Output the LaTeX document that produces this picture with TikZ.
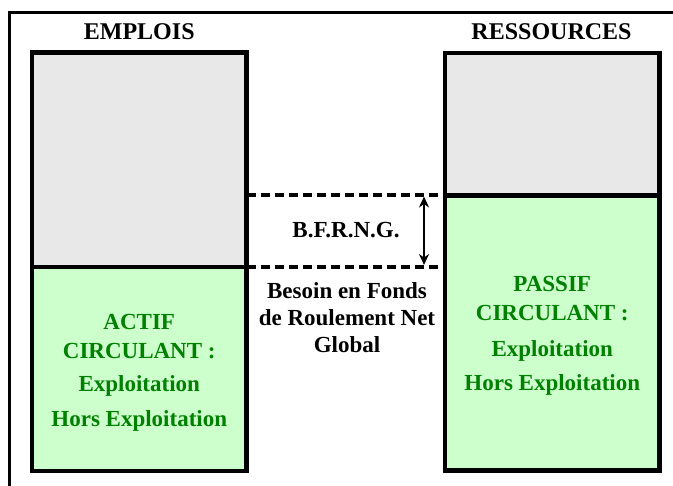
\documentclass[tikz,border=0pt]{standalone}
\usepackage{fontspec}
\setmainfont{Liberation Serif}
\usetikzlibrary{arrows.meta}
\definecolor{boxgrey}{RGB}{232,232,232}
\definecolor{boxgreen}{RGB}{204,255,204}
\definecolor{txtgreen}{RGB}{0,128,0}
\begin{document}
\begin{tikzpicture}[x=1bp,y=-1bp,
  part/.style={draw=black, line width=4.5bp, minimum width=214.5bp,
    inner sep=0pt, outer sep=0pt},
  greypart/.style={part, fill=boxgrey},
  greenpart/.style={part, fill=boxgreen, text=txtgreen, align=center,
    font=\fontsize{23bp}{29bp}\selectfont\bfseries},
  title/.style={anchor=base, inner sep=0pt,
    font=\fontsize{24bp}{28bp}\selectfont\bfseries},
  label/.style={inner sep=0pt, align=center,
    font=\fontsize{23bp}{27bp}\selectfont\bfseries},
  frameline/.style={draw=black, line width=3bp},
  dashline/.style={draw=black, line width=4bp, dash pattern=on 9bp off 5bp},
  biarrow/.style={draw=black, line width=2.4bp,
    {Stealth[length=11bp,width=10bp]}-{Stealth[length=11bp,width=10bp]}}
]
\useasboundingbox (0,0) rectangle (673,486);

% outer frame (top and left sides visible)
\coordinate (f1) at (673,13);
\coordinate (f2) at (9.5,13);
\coordinate (f3) at (9.5,486);
\draw[frameline] (f1) -- (f2) -- (f3);

% titles
\node[title] (emplois) at (139.25,39.5) {EMPLOIS};
\node[title] (ressources) at (551.5,40) {RESSOURCES};

% left column
\node[greypart, minimum height=214.5bp] (Ltop) at (139.25,159.75) {};
\node[greenpart, minimum height=204bp, text depth=0pt] (Lbot) at (139.25,369) {};
\node[greenpart, draw=none, fill=none] (Ltext) at (139.25,372.5)
  {ACTIF\\CIRCULANT :\\[4bp]Exploitation\\[6bp]Hors Exploitation};

% right column
\node[greypart, minimum height=142.5bp] (Rtop) at (552.25,124.25) {};
\node[greenpart, minimum height=275bp] (Rbot) at (552.25,333) {};
\node[greenpart, draw=none, fill=none] (Rtext) at (552.25,336)
  {PASSIF\\CIRCULANT :\\[7bp]Exploitation\\[5bp]Hors Exploitation};

% dashed levels
\draw[dashline] (Ltop.east |- Rbot.north) -- (Rbot.north west);
\draw[dashline] (Lbot.north east) -- (Lbot.north east -| Rtop.west);

% BFRNG arrow
\coordinate (atop) at (424,195.5);
\coordinate (abot) at (424,267);
\draw[biarrow, shorten <=1bp, shorten >=2bp] (atop) -- (abot);

% labels
\node[label, anchor=base] (bfrng) at (346,238) {B.F.R.N.G.};
\node[label] (besoin) at (347,317.5) {Besoin en Fonds\\de Roulement Net\\Global};
\end{tikzpicture}
\end{document}
